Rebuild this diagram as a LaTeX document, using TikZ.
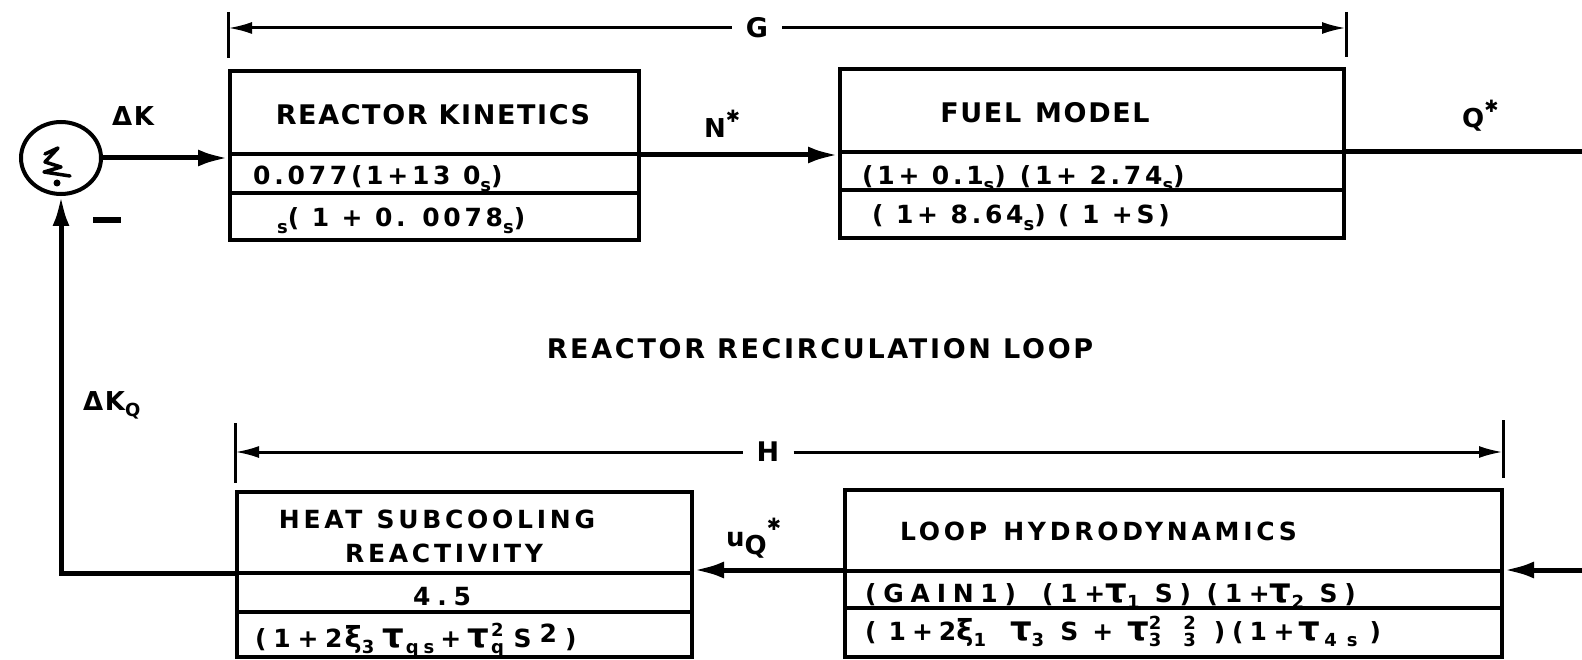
\documentclass[tikz,border=0pt]{standalone}
\usepackage{fontspec}
\setmainfont{DejaVu Sans}[LetterSpace=6]
\newfontfamily\rowA{DejaVu Sans}[LetterSpace=15]
\newfontfamily\rowB{DejaVu Sans}[LetterSpace=27]
\newfontfamily\ttlB{DejaVu Sans}[LetterSpace=15]
\newfontfamily\ttlC{DejaVu Sans}[LetterSpace=10]
\usetikzlibrary{arrows.meta,shapes.geometric}
\newcommand\mysub[1]{\raisebox{-0.45ex}{\fontsize{18}{18}\selectfont #1}}
\newcommand\mysup[1]{\raisebox{0.8ex}{\fontsize{18}{18}\selectfont #1}}
\newcommand\mysubsup[2]{\rlap{\raisebox{-0.5ex}{\fontsize{18}{18}\selectfont #1}}\raisebox{0.8ex}{\fontsize{18}{18}\selectfont #2}}
\newcommand\tu{{\fontsize{34}{34}\selectfont τ}}
\newcommand\xii{{\fontsize{29}{29}\selectfont ξ}}
\newcommand\bigstar{\raisebox{1.1ex}{\fontsize{17}{17}\selectfont ✱}}
\begin{document}
\begin{tikzpicture}[x=1pt,y=-1pt,
  every node/.style={inner sep=0pt},
  blk/.style={draw, line width=4pt, inner sep=0pt, anchor=north west},
  sep/.style={line width=3.5pt},
  conn/.style={line width=5pt, -{Latex[length=30pt,width=17pt]}},
  wire/.style={line width=5pt},
  dimline/.style={line width=3pt},
  dimarrow/.style={line width=3pt, -{Latex[length=24pt,width=12pt]}},
  big/.style={font=\fontsize{27}{30}\selectfont\bfseries},
  lab/.style={font=\fontsize{26}{30}\selectfont\bfseries},
  rowa/.style={font=\rowA\fontsize{25}{28}\selectfont\bfseries},
  rowb/.style={font=\rowB\fontsize{25}{28}\selectfont\bfseries},
  ttlb/.style={font=\ttlB\fontsize{25}{28}\selectfont\bfseries}]
\useasboundingbox (0,0) rectangle (1582,660);

% boxes
\node[blk, minimum width=409pt, minimum height=169pt] (rk) at (228,69) {};
\node[blk, minimum width=504pt, minimum height=169pt] (fm) at (838,67) {};
\node[blk, minimum width=455pt, minimum height=165pt] (hs) at (235,490) {};
\node[blk, minimum width=657pt, minimum height=167pt] (lh) at (843,488) {};

\draw[sep] (rk.west |- 0,154) -- (rk.east |- 0,154);
\draw[sep] (rk.west |- 0,193) -- (rk.east |- 0,193);
\draw[sep] (fm.west |- 0,152) -- (fm.east |- 0,152);
\draw[sep] (fm.west |- 0,190) -- (fm.east |- 0,190);
\draw[sep] (hs.west |- 0,573) -- (hs.east |- 0,573);
\draw[sep] (hs.west |- 0,612) -- (hs.east |- 0,612);
\draw[sep] (lh.west |- 0,571) -- (lh.east |- 0,571);
\draw[sep] (lh.west |- 0,608) -- (lh.east |- 0,608);

% box texts
\node[big, anchor=base] (rkt) at (433,125) {REACTOR KINETICS};
\node[rowa, anchor=base west] (rk1) at (253,185) {0.077(1+13 0\mysub{s})};
\node[rowa, anchor=base west] (rk2) at (277,227) {\mysub{s}( 1 + 0. 0078\mysub{s})};

\node[big, anchor=base] (fmt) at (1045,123) {FUEL\hspace{14pt}MODEL};
\node[rowa, anchor=base west] (fm1) at (862,185) {(1+ 0.1\mysub{s})\hspace{14pt}(1+ 2.74\mysub{s})};
\node[rowa, anchor=base west] (fm2) at (872,224) {( 1+ 8.64\mysub{s}) ( 1 +S)};

\node[ttlb, anchor=base] (hst1) at (437,528) {HEAT\hspace{14pt}SUBCOOLING};
\node[ttlb, anchor=base] (hst2) at (444,562) {REACTIVITY};
\node[rowb, anchor=base] (hs1) at (442,605) {4.5};
\node[rowb, anchor=base west] (hs2) at (255,647) {(1+2\hspace{2pt}\xii\mysub{3}\hspace{8pt}\tu\hspace{2pt}\mysub{qs}\hspace{6pt}+\hspace{6pt}\tu\hspace{2pt}\mysubsup{q}{2}\hspace{10pt}S\hspace{8pt}\raisebox{0.3ex}{2}\hspace{8pt})};

\node[ttlb, anchor=base west] (lht) at (900,540) {LOOP\hspace{16pt}HYDRODYNAMICS};
\node[rowb, anchor=base west] (lh1) at (865,602) {(GAIN1)\hspace{26pt}(1+\tu\mysub{1} S) (1+\tu\mysub{2} S)};
\node[rowb, anchor=base west] (lh2) at (865,640) {(\hspace{12pt}1\hspace{6pt}+\hspace{6pt}2\xii\mysub{1}\hspace{24pt}\tu\mysub{3}\hspace{16pt}S\hspace{14pt}+\hspace{14pt}\tu\mysubsup{3}{2}\hspace{22pt}\mysubsup{3}{2}\hspace{18pt})(\hspace{6pt}1+\hspace{4pt}\tu\hspace{4pt}\mysub{4\hspace{10pt}s}\hspace{12pt})};

% summing junction
\node[draw, ellipse, line width=4pt, minimum width=80pt, minimum height=72pt] (sum) at (61,158) {};
\draw[line width=3.5pt, line join=round, line cap=round]
  (45,154) -- (58,148) -- (45,162) -- (61,167) -- (44,172) -- (70,176);
\fill (57,183) circle (3.5pt);

% connectors
\draw[conn] (sum.east) -- (sum.east -| rk.west);
\draw[conn] (rk.east |- 0,155) -- (fm.west |- 0,155);
\coordinate (qout) at (1582,152);
\draw[wire] (fm.east |- qout) -- (qout);
\coordinate (uin) at (1582,570);
\draw[conn] (uin) -- (lh.east |- uin);
\draw[conn] (lh.west |- 0,570) -- (hs.east |- 0,570);
\coordinate (fb) at (61,573);
\draw[conn] (hs.west |- fb) -- (fb) -- (sum.south);

% signal labels
\node[lab, anchor=base west] (dk) at (112,126) {ΔK};
\node (minus) at (107,220) {\rule{28pt}{6pt}};
\node[lab, anchor=base west] (ns) at (704,138) {N\bigstar};
\node[lab, anchor=base west] (qs) at (1462,128) {Q\bigstar};
\node[lab, anchor=base west] (dkq) at (83,410) {ΔK\mysub{Q}};
\node[lab, anchor=base west] (uq) at (726,546) {u\raisebox{-0.6ex}{Q}\bigstar};

% dimension brackets
\node[big] (G) at (757,28) {G};
\coordinate (gl) at (228,28);
\coordinate (gr) at (1346,28);
\draw[dimline] (228,12) -- (228,58);
\draw[dimline] (1346,12) -- (1346,57);
\draw[dimarrow] ([xshift=-14pt]G.west) -- (gl);
\draw[dimarrow] ([xshift=14pt]G.east) -- (gr);

\node[big] (H) at (768,452) {H};
\coordinate (hl) at (235,452);
\coordinate (hr) at (1503,452);
\draw[dimline] (235,423) -- (235,483);
\draw[dimline] (1503,420) -- (1503,478);
\draw[dimarrow] ([xshift=-14pt]H.west) -- (hl);
\draw[dimarrow] ([xshift=14pt]H.east) -- (hr);

\node[big, anchor=base, font=\ttlC\fontsize{27}{30}\selectfont\bfseries] (rrl) at (820,358) {REACTOR\hspace{12pt}RECIRCULATION LOOP};
\end{tikzpicture}
\end{document}
